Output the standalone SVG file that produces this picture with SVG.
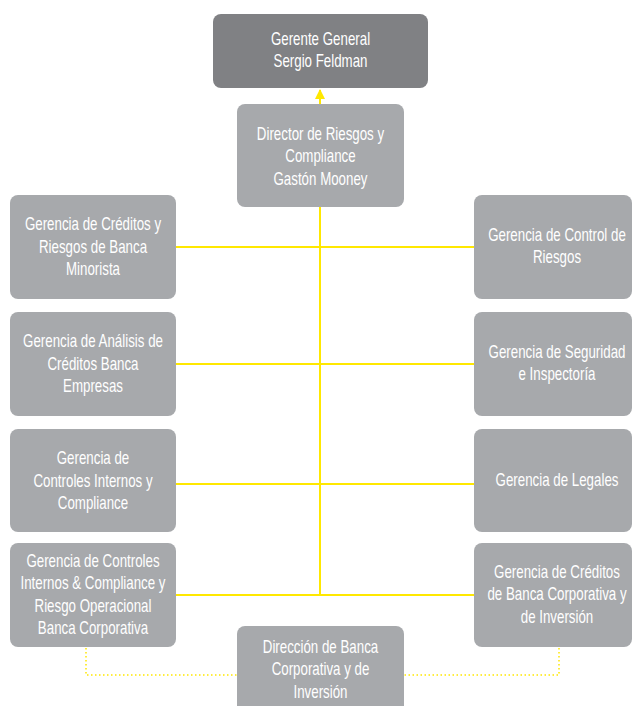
<svg xmlns="http://www.w3.org/2000/svg" width="633" height="706" viewBox="0 0 633 706">
<defs>
<style>
.box{fill:#a7a9ac}
.top{fill:#808184}
.t{font-family:"Liberation Sans",Arial,sans-serif;font-size:18px;fill:#ffffff;text-anchor:middle}
.ln{stroke:#ffe800;stroke-width:2;fill:none}
.dot{stroke:#ffe800;stroke-width:1.5;stroke-dasharray:1.5 2.5;fill:none}
</style>
<marker id="arr" viewBox="0 0 10 10" refX="9" refY="5" markerWidth="5" markerHeight="5" orient="auto">
<path d="M0,0 L10,5 L0,10 z" fill="#ffe800"/>
</marker>
</defs>
<rect width="633" height="706" fill="#ffffff"/>
<g id="connectors">
<line class="ln" x1="320" y1="104" x2="320" y2="90" marker-end="url(#arr)"/>
<line class="ln" x1="320" y1="207" x2="320" y2="595"/>
<line class="ln" x1="176" y1="247" x2="474" y2="247"/>
<line class="ln" x1="176" y1="364" x2="474" y2="364"/>
<line class="ln" x1="176" y1="484" x2="474" y2="484"/>
<line class="ln" x1="176" y1="595" x2="474" y2="595"/>
<polyline class="dot" points="86,648 86,675 237,675"/>
<polyline class="dot" points="559,648 559,675 404,675"/>
</g>
<g id="gerente">
<rect class="top" x="213" y="14" width="215" height="74" rx="8"/>
<text class="t" transform="matrix(0.74 0 0 1 320.5 0)" y="45">Gerente General</text>
<text class="t" transform="matrix(0.74 0 0 1 320.5 0)" y="67">Sergio Feldman</text>
</g>
<g id="director">
<rect class="box" x="237" y="104" width="167" height="103" rx="8"/>
<text class="t" transform="matrix(0.74 0 0 1 320.5 0)" y="140">Director de Riesgos y</text>
<text class="t" transform="matrix(0.74 0 0 1 320.5 0)" y="162.5">Compliance</text>
<text class="t" transform="matrix(0.74 0 0 1 320.5 0)" y="185">Gastón Mooney</text>
</g>
<g id="l1">
<rect class="box" x="10" y="195" width="166" height="104" rx="8"/>
<text class="t" transform="matrix(0.74 0 0 1 93 0)" y="230.5">Gerencia de Créditos y</text>
<text class="t" transform="matrix(0.74 0 0 1 93 0)" y="253">Riesgos de Banca</text>
<text class="t" transform="matrix(0.74 0 0 1 93 0)" y="275.5">Minorista</text>
</g>
<g id="l2">
<rect class="box" x="10" y="312" width="166" height="104" rx="8"/>
<text class="t" transform="matrix(0.74 0 0 1 93 0)" y="347.5">Gerencia de Análisis de</text>
<text class="t" transform="matrix(0.74 0 0 1 93 0)" y="370">Créditos Banca</text>
<text class="t" transform="matrix(0.74 0 0 1 93 0)" y="392.5">Empresas</text>
</g>
<g id="l3">
<rect class="box" x="10" y="429" width="166" height="103" rx="8"/>
<text class="t" transform="matrix(0.74 0 0 1 93 0)" y="464.5">Gerencia de</text>
<text class="t" transform="matrix(0.74 0 0 1 93 0)" y="487">Controles Internos y</text>
<text class="t" transform="matrix(0.74 0 0 1 93 0)" y="509.5">Compliance</text>
</g>
<g id="l4">
<rect class="box" x="10" y="543" width="166" height="104" rx="8"/>
<text class="t" transform="matrix(0.74 0 0 1 93 0)" y="567">Gerencia de Controles</text>
<text class="t" transform="matrix(0.74 0 0 1 93 0)" y="589.5">Internos &amp; Compliance y</text>
<text class="t" transform="matrix(0.74 0 0 1 93 0)" y="612">Riesgo Operacional</text>
<text class="t" transform="matrix(0.74 0 0 1 93 0)" y="634.5">Banca Corporativa</text>
</g>
<g id="r1">
<rect class="box" x="474" y="195" width="158" height="104" rx="8"/>
<text class="t" transform="matrix(0.74 0 0 1 557 0)" y="241">Gerencia de Control de</text>
<text class="t" transform="matrix(0.74 0 0 1 557 0)" y="263.5">Riesgos</text>
</g>
<g id="r2">
<rect class="box" x="474" y="312" width="158" height="104" rx="8"/>
<text class="t" transform="matrix(0.74 0 0 1 557 0)" y="358">Gerencia de Seguridad</text>
<text class="t" transform="matrix(0.74 0 0 1 557 0)" y="380.5">e Inspectoría</text>
</g>
<g id="r3">
<rect class="box" x="474" y="429" width="158" height="103" rx="8"/>
<text class="t" transform="matrix(0.74 0 0 1 557 0)" y="486">Gerencia de Legales</text>
</g>
<g id="r4">
<rect class="box" x="474" y="543" width="158" height="104" rx="8"/>
<text class="t" transform="matrix(0.74 0 0 1 557 0)" y="578">Gerencia de Créditos</text>
<text class="t" transform="matrix(0.74 0 0 1 557 0)" y="600.5">de Banca Corporativa y</text>
<text class="t" transform="matrix(0.74 0 0 1 557 0)" y="623">de Inversión</text>
</g>
<g id="direccion">
<rect class="box" x="237" y="626" width="167" height="104" rx="8"/>
<text class="t" transform="matrix(0.74 0 0 1 320.5 0)" y="653">Dirección de Banca</text>
<text class="t" transform="matrix(0.74 0 0 1 320.5 0)" y="675.5">Corporativa y de</text>
<text class="t" transform="matrix(0.74 0 0 1 320.5 0)" y="698">Inversión</text>
</g>
</svg>
